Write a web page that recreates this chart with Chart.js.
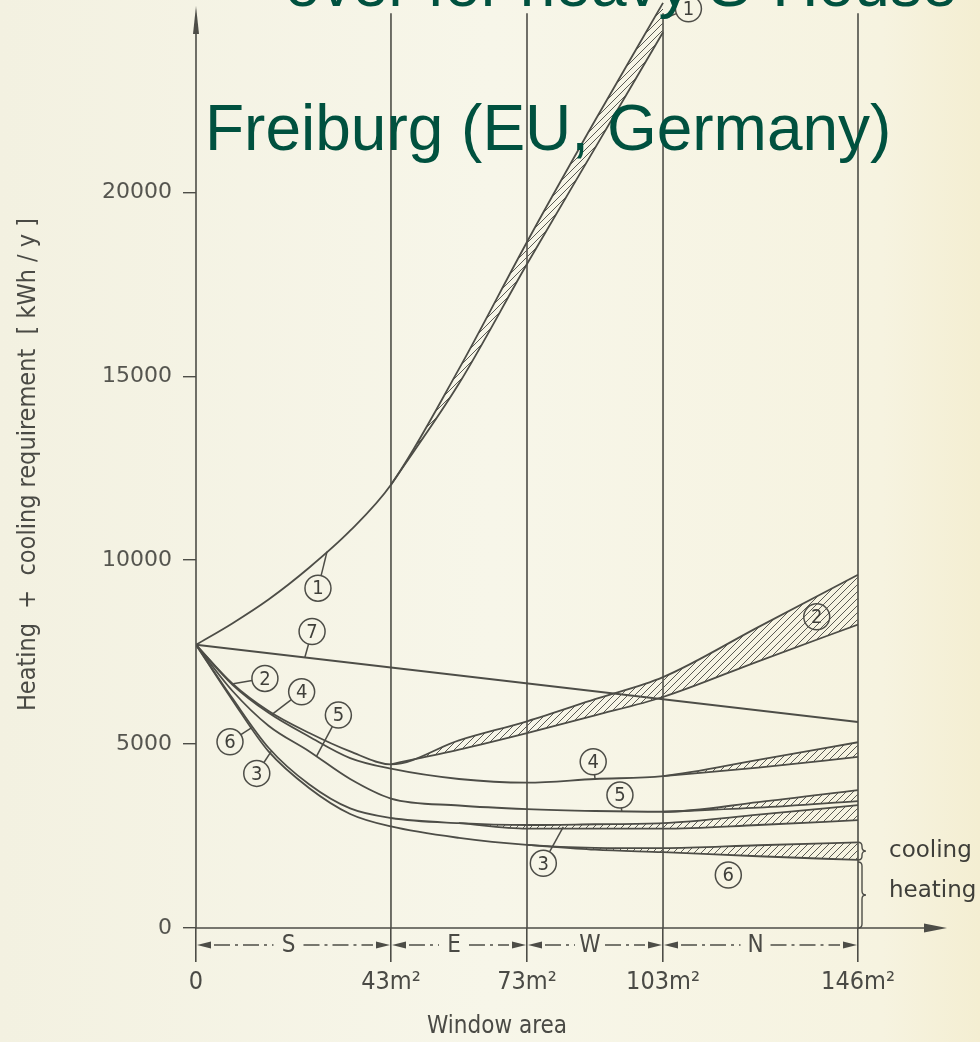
<!DOCTYPE html>
<html>
<head>
<meta charset="utf-8">
<script src="https://cdn.jsdelivr.net/npm/chart.js@4.4.1/dist/chart.umd.min.js"></script>
<style>
  html, body { margin: 0; padding: 0; background: #f5f4e5; }
  canvas { display: block; }
</style>
</head>
<body>
<canvas id="chart" width="980" height="1042"></canvas>
<script>
// Window area sample points [m²]
const AREA = [0, 8, 16, 25, 34, 43, 58, 73, 88, 103, 124, 146];

// Heating + cooling (upper edge) and heating only (lower edge) per variant [kWh/y]
const V1_TOTAL = [7700, 8280, 8930, 9800, 10800, 12050, 15200, 18650, 21950, 25150, null, null];
const V1_HEAT  = [null, null, null, null, null, 12050, 14800, 18050, 21200, 24350, null, null];
const V2_TOTAL = [7700, 6650, 5900, 5300, 4800, 4450, 5100, 5620, 6220, 6820, 8180, 9600];
const V2_HEAT  = [null, null, null, null, null, 4450, 4850, 5300, 5780, 6280, 7250, 8250];
const V3_TOTAL = [7700, 6250, 4900, 3900, 3250, 2990, 2850, 2800, 2820, 2850, 3080, 3340];
const V3_HEAT  = [null, null, null, null, null, null, 2850, 2700, 2700, 2700, 2800, 2930];
const V4_TOTAL = [7700, 6620, 5850, 5200, 4620, 4330, 4050, 3950, 4050, 4130, 4570, 5050];
const V4_HEAT  = [null, null, null, null, null, null, null, null, null, 4130, 4360, 4650];
const V5_TOTAL = [7700, 6450, 5500, 4800, 4050, 3520, 3330, 3230, 3180, 3160, 3420, 3750];
const V5_HEAT  = [null, null, null, null, null, null, null, null, null, 3160, 3270, 3450];
const V6_TOTAL = [7700, 6200, 4800, 3800, 3100, 2760, 2450, 2260, 2180, 2170, 2250, 2330];
const V6_HEAT  = [null, null, null, null, null, null, null, 2260, 2130, 2060, 1950, 1850];
const V7_TOTAL = [7700, null, null, null, null, null, null, null, null, null, null, 5600];

// Facade boundaries along the window area axis and facade names
const FACADE_BOUNDS = [0, 43, 73, 103, 146];
const FACADES = ['S', 'E', 'W', 'N'];
const X_TICKS = [0, 43, 73, 103, 146];
const Y_TICKS = [0, 5000, 10000, 15000, 20000];

const VARIANTS = [
  { total: V1_TOTAL, heat: V1_HEAT },
  { total: V2_TOTAL, heat: V2_HEAT },
  { total: V3_TOTAL, heat: V3_HEAT },
  { total: V4_TOTAL, heat: V4_HEAT },
  { total: V5_TOTAL, heat: V5_HEAT },
  { total: V6_TOTAL, heat: V6_HEAT },
  { total: V7_TOTAL, heat: null }
];

// Circled variant numbers: label, circle centre (area, kWh/y), leader target (area, kWh/y)
const CALLOUTS = [
  ['1', 26.9, 9238, 28.9, 10230],
  ['7', 25.6, 8060, 24.0, 7355],
  ['2', 15.2, 6785, 8.2, 6640],
  ['4', 23.3, 6420, 16.7, 5800],
  ['5', 31.4, 5787, 26.6, 4670],
  ['6', 7.5, 5062, 12.3, 5450],
  ['3', 13.4, 4203, 16.7, 4820],
  ['4', 87.6, 4519, 88.0, 4050],
  ['5', 93.5, 3614, 93.9, 3175],
  ['3', 76.6, 1758, 81.0, 2750],
  ['6', 117.4, 1440, null, null],
  ['2', 136.9, 8458, null, null],
  ['1', 108.6, 24990, 103.8, 24750]
];

const INK = '#4d4d47';
const TEXT = '#4a4a45';
const NARROW = "'DejaVu Sans Condensed', 'DejaVu Sans', sans-serif";
const ROUND = "'DejaVu Sans', 'Liberation Sans', sans-serif";

const canvas = document.getElementById('chart');
const mainCtx = canvas.getContext('2d');

// diagonal hatching used for the cooling share
function makeHatch() {
  const t = document.createElement('canvas');
  t.width = 7; t.height = 7;
  const g = t.getContext('2d');
  g.strokeStyle = '#5a5a53';
  g.lineWidth = 1;
  g.beginPath();
  g.moveTo(-1, 8); g.lineTo(8, -1);
  g.moveTo(-1, 1); g.lineTo(1, -1);
  g.moveTo(6, 8); g.lineTo(8, 6);
  g.stroke();
  return mainCtx.createPattern(t, 'repeat');
}
const HATCH = makeHatch();

function toPoints(vals) {
  return AREA.map((a, i) => ({ x: a, y: vals[i] }));
}

const datasets = [];
VARIANTS.forEach(v => {
  let heatIndex = null;
  if (v.heat) {
    heatIndex = datasets.length;
    datasets.push({
      data: toPoints(v.heat),
      borderColor: INK, borderWidth: 1.8,
      pointRadius: 0, fill: false, spanGaps: true,
      cubicInterpolationMode: 'monotone'
    });
  }
  datasets.push({
    data: toPoints(v.total),
    borderColor: INK, borderWidth: 1.8,
    pointRadius: 0, spanGaps: true,
    cubicInterpolationMode: 'monotone',
    backgroundColor: HATCH,
    fill: heatIndex === null ? false : { target: heatIndex }
  });
});

const decorations = {
  id: 'decorations',
  beforeDraw(chart) {
    const ctx = chart.ctx;
    ctx.save();
    const grad = ctx.createLinearGradient(0, 0, chart.width, 0);
    grad.addColorStop(0, '#f3f1e1');
    grad.addColorStop(0.5, '#f7f6e9');
    grad.addColorStop(0.9, '#f6f3e0');
    grad.addColorStop(1, '#f4eed2');
    ctx.fillStyle = grad;
    ctx.fillRect(0, 0, chart.width, chart.height);
    ctx.restore();
  },
  beforeDatasetsDraw(chart) {
    const ctx = chart.ctx, xs = chart.scales.x, ys = chart.scales.y;
    ctx.save();
    ctx.strokeStyle = INK;
    ctx.fillStyle = INK;
    ctx.lineWidth = 1.6;
    // vertical facade boundaries
    FACADE_BOUNDS.slice(1).forEach(a => {
      const px = xs.getPixelForValue(a);
      ctx.beginPath();
      ctx.moveTo(px, ys.getPixelForValue(0));
      ctx.lineTo(px, ys.getPixelForValue(24870));
      ctx.stroke();
    });
    // y axis with arrow
    const x0 = xs.getPixelForValue(0), y0 = ys.getPixelForValue(0);
    ctx.beginPath();
    ctx.moveTo(x0, y0); ctx.lineTo(x0, 20);
    ctx.stroke();
    ctx.beginPath();
    ctx.moveTo(x0, 6); ctx.lineTo(x0 + 3, 34); ctx.lineTo(x0 - 3, 34); ctx.closePath();
    ctx.fill();
    // x axis with arrow
    ctx.beginPath();
    ctx.moveTo(x0, y0); ctx.lineTo(935, y0);
    ctx.stroke();
    ctx.beginPath();
    ctx.moveTo(947, y0); ctx.lineTo(924, y0 - 4.5); ctx.lineTo(924, y0 + 4.5); ctx.closePath();
    ctx.fill();
    ctx.restore();
  },
  afterDatasetsDraw(chart) {
    const ctx = chart.ctx, xs = chart.scales.x, ys = chart.scales.y;
    const X = a => xs.getPixelForValue(a), Y = v => ys.getPixelForValue(v);
    ctx.save();
    ctx.strokeStyle = INK;
    ctx.fillStyle = INK;

    // facade direction markers under the axis
    const my = Y(0) + 17;
    ctx.font = `24px ${NARROW}`;
    ctx.textAlign = 'center';
    ctx.textBaseline = 'middle';
    FACADES.forEach((name, i) => {
      const xa = X(FACADE_BOUNDS[i]), xb = X(FACADE_BOUNDS[i + 1]);
      const xm = (xa + xb) / 2 - 5;
      ctx.fillStyle = INK;
      ctx.beginPath();
      ctx.moveTo(xa + 1, my); ctx.lineTo(xa + 15, my - 3.5); ctx.lineTo(xa + 15, my + 3.5); ctx.closePath();
      ctx.fill();
      ctx.beginPath();
      ctx.moveTo(xb - 1, my); ctx.lineTo(xb - 15, my - 3.5); ctx.lineTo(xb - 15, my + 3.5); ctx.closePath();
      ctx.fill();
      ctx.lineWidth = 1.4;
      ctx.setLineDash([16, 5, 3, 5]);
      ctx.beginPath();
      ctx.moveTo(xa + 18, my); ctx.lineTo(xm - 15, my);
      ctx.moveTo(xm + 15, my); ctx.lineTo(xb - 18, my);
      ctx.stroke();
      ctx.setLineDash([]);
      ctx.fillStyle = TEXT;
      ctx.fillText(name, xm, my + 1);
    });

    // x axis caption
    ctx.font = `24px ${NARROW}`;
    ctx.fillStyle = TEXT;
    ctx.fillText('Window area', 497, 1027);

    // braces for cooling / heating share at the north end
    const xr = X(146);
    function brace(ya, yb, w) {
      const m = (ya + yb) / 2;
      ctx.beginPath();
      ctx.moveTo(xr, ya);
      ctx.quadraticCurveTo(xr + w, ya, xr + w, ya + w);
      ctx.lineTo(xr + w, m - w);
      ctx.quadraticCurveTo(xr + w, m, xr + 2 * w, m);
      ctx.quadraticCurveTo(xr + w, m, xr + w, m + w);
      ctx.lineTo(xr + w, yb - w);
      ctx.quadraticCurveTo(xr + w, yb, xr, yb);
      ctx.stroke();
    }
    ctx.lineWidth = 1.4;
    const coolTop = Y(V6_TOTAL[V6_TOTAL.length - 1]);
    const coolBot = Y(V6_HEAT[V6_HEAT.length - 1]);
    brace(coolTop, coolBot, 4);
    brace(coolBot + 2, Y(0), 4);
    ctx.font = `23px ${ROUND}`;
    ctx.textAlign = 'left';
    ctx.fillStyle = '#3e3e39';
    ctx.fillText('cooling', xr + 31, (coolTop + coolBot) / 2);
    ctx.fillText('heating', xr + 31, (coolBot + Y(0)) / 2 - 3);

    // circled variant numbers
    ctx.strokeStyle = INK;
    ctx.lineWidth = 1.5;
    ctx.font = `20px ${NARROW}`;
    ctx.textAlign = 'center';
    ctx.textBaseline = 'middle';
    CALLOUTS.forEach(([lab, ca, cv, ta, tv]) => {
      const cx = X(ca), cy = Y(cv), r = 13;
      ctx.beginPath();
      ctx.arc(cx, cy, r, 0, Math.PI * 2);
      ctx.stroke();
      ctx.fillStyle = '#3f3f3a';
      ctx.fillText(lab, cx, cy + 1);
      if (ta !== null) {
        const tx = X(ta), ty = Y(tv);
        const d = Math.hypot(tx - cx, ty - cy);
        ctx.beginPath();
        ctx.moveTo(cx + (tx - cx) * r / d, cy + (ty - cy) * r / d);
        ctx.lineTo(tx, ty);
        ctx.stroke();
      }
    });

    // headings
    ctx.fillStyle = '#00513f';
    ctx.font = "64px 'Liberation Sans', Arial, sans-serif";
    ctx.textAlign = 'left';
    ctx.textBaseline = 'alphabetic';
    ctx.fillText('over for heavy S-House', 285, 6);
    ctx.fillText('Freiburg (EU, Germany)', 205, 150);
    ctx.restore();
  }
};

new Chart(canvas, {
  type: 'line',
  data: { datasets },
  plugins: [decorations],
  options: {
    responsive: false,
    animation: false,
    devicePixelRatio: 1,
    layout: { padding: { top: 1, right: 122, left: 0, bottom: 0 } },
    plugins: { legend: { display: false }, tooltip: { enabled: false } },
    scales: {
      x: {
        type: 'linear', min: 0, max: 146,
        afterBuildTicks: s => { s.ticks = X_TICKS.map(v => ({ value: v })); },
        afterFit: s => { s.height = 114; s.paddingLeft = 0; s.paddingRight = 0; },
        border: { display: false },
        grid: { drawOnChartArea: false, drawTicks: true, tickLength: 34, color: INK, lineWidth: 1.6 },
        ticks: {
          padding: 5, color: TEXT, maxRotation: 0, autoSkip: false,
          font: { family: NARROW, size: 25 },
          callback: v => (v === 0 ? '0' : v + 'm²')
        }
      },
      y: {
        type: 'linear', min: 0, max: 25200,
        afterBuildTicks: s => { s.ticks = Y_TICKS.map(v => ({ value: v })); },
        afterFit: s => { s.width = 196; s.paddingTop = 0; s.paddingBottom = 0; },
        border: { display: false },
        grid: { drawOnChartArea: false, drawTicks: true, tickLength: 13, color: INK, lineWidth: 1.4 },
        ticks: {
          padding: 11, color: '#55554f',
          font: { family: ROUND, size: 22 },
          callback: v => String(v)
        },
        title: {
          display: true,
          text: 'Heating  +  cooling requirement  [ kWh / y ]',
          color: TEXT,
          font: { family: NARROW, size: 25 },
          padding: { top: 13, bottom: 0 }
        }
      }
    }
  }
});
</script>
</body>
</html>
